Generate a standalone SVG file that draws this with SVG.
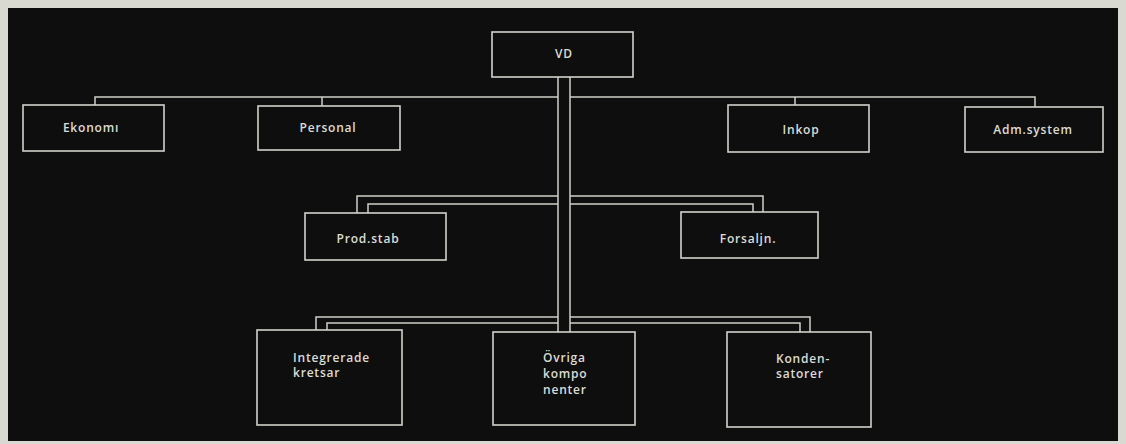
<svg xmlns="http://www.w3.org/2000/svg" width="1126" height="444" viewBox="0 0 1126 444">
<style>
.box{fill:none;stroke:#d2d2cc;stroke-width:1.6}
.con{fill:none;stroke:#cfcfc9;stroke-width:1.5}
.t{font-family:"Open Sans","Liberation Sans",sans-serif;font-size:12px;font-weight:600;fill:#dcdcd6;letter-spacing:0.8px}
.c{text-anchor:middle}
</style>
<rect x="0" y="0" width="1126" height="444" fill="#d9d9d2"/>
<rect x="8" y="8" width="1110" height="433" fill="#0e0e0e"/>
<g id="connectors">
<path class="con" d="M95,105 V97 H558 M570,97 H1035 V107 M322,97 V106 M795,97 V105"/>
<path class="con" d="M558,77 V332 M570,77 V332"/>
<path class="con" d="M558,196 H357 V213 M558,204 H368 V213"/>
<path class="con" d="M570,196 H763 V212 M570,204 H753 V212"/>
<path class="con" d="M558,317 H316 V330 M558,323 H327 V330"/>
<path class="con" d="M570,317 H810 V332 M570,323 H800 V332"/>
</g>
<g id="vd"><rect class="box" x="492" y="32" width="141" height="45"/><text class="t c" x="564" y="58">VD</text></g>
<g id="ekonomi"><rect class="box" x="23" y="105" width="141" height="46"/><text class="t c" x="91" y="132">Ekonomı</text></g>
<g id="personal"><rect class="box" x="258" y="106" width="142" height="44"/><text class="t c" x="328" y="132">Personal</text></g>
<g id="inkop"><rect class="box" x="728" y="105" width="141" height="47"/><text class="t c" x="801" y="134">Inkop</text></g>
<g id="admsystem"><rect class="box" x="965" y="107" width="138" height="45"/><text class="t c" x="1033" y="134">Adm.system</text></g>
<g id="prodstab"><rect class="box" x="305" y="213" width="141" height="47"/><text class="t c" x="368" y="243">Prod.stab</text></g>
<g id="forsaljn"><rect class="box" x="681" y="212" width="137" height="46"/><text class="t c" x="748" y="243">Forsaljn.</text></g>
<g id="integrerade"><rect class="box" x="257" y="330" width="145" height="95"/><text class="t" x="293" y="362">Integrerade<tspan x="293" y="377">kretsar</tspan></text></g>
<g id="ovriga"><rect class="box" x="493" y="332" width="142" height="93"/><text class="t" x="543" y="362">Övriga<tspan x="543" y="378">kompo</tspan><tspan x="543" y="394">nenter</tspan></text></g>
<g id="kondensatorer"><rect class="box" x="727" y="332" width="144" height="95"/><text class="t" x="776" y="363">Konden-<tspan x="776" y="378">satorer</tspan></text></g>
</svg>
